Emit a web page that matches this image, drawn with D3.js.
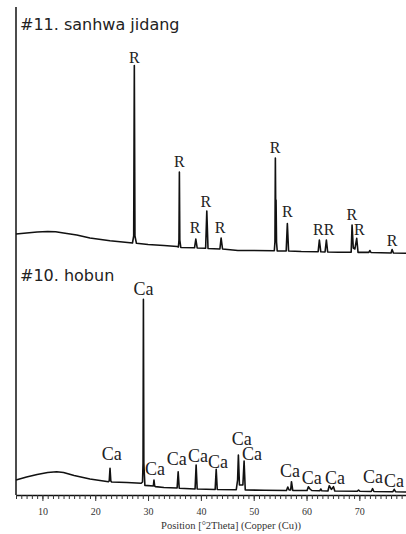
<!DOCTYPE html>
<html>
<head>
<meta charset="utf-8">
<script src="https://cdn.jsdelivr.net/npm/d3@7"></script>
<style>
  body { margin: 0; background: #fff; }
  svg { display: block; }
</style>
</head>
<body>
<div id="chart"></div>
<script>
// Diffraction traces: position in degrees 2theta, intensity in counts
const topTheta = [5.0, 7.0, 9.0, 11.0, 12.5, 14.0, 16.5, 19.0, 22.8, 26.6,
  27.05, 27.28, 27.4, 27.52, 27.8, 30.0, 33.0, 35.5,
  35.75, 35.85, 35.93, 36.01, 36.2, 38.8, 39.04, 39.3, 40.9, 41.12, 41.35,
  43.6, 43.83, 44.1, 47.0, 50.0, 53.9, 54.02, 54.1, 54.17, 54.23, 54.32, 54.45,
  56.15, 56.37, 56.6, 59.0, 62.2, 62.43, 62.7, 63.5, 63.76, 64.0, 66.0,
  68.45, 68.62, 68.85, 69.15, 69.5, 69.75, 71.8, 72.0, 72.2, 76.0, 76.2, 76.45, 78.83];
const topCounts = [130, 135, 140, 142.5, 141.5, 135, 125, 110, 96.5, 86.5,
  85, 120, 972, 120, 83.5, 77.5, 72.5, 67.5,
  65, 100, 440, 100, 62.5, 61, 105, 60, 58.5, 245, 57.5,
  55, 110, 55, 47.5, 47.5, 46.5, 90, 510, 250, 300, 90, 45,
  45, 182.5, 45, 42.5, 41.5, 100, 41, 40, 100, 40, 38.5,
  38.5, 175, 60, 55, 108, 38, 38, 47.5, 37.5, 35, 52.5, 35, 33.5];

const bottomTheta = [5.0, 7.0, 9.0, 11.0, 12.7, 14.0, 16.0, 19.0, 22.5,
  22.65, 22.8, 22.95, 23.1, 26.0, 28.7, 28.95, 29.05, 29.12, 29.2, 29.4,
  31.0, 31.12, 31.25, 31.4, 33.0, 35.5, 35.7, 35.9, 38.9, 39.1, 39.3,
  42.7, 42.9, 43.1, 46.7, 46.95, 47.1, 47.3, 47.95, 48.18, 48.4, 52.0,
  56.2, 56.45, 56.7, 57.0, 57.15, 57.4, 60.1, 60.35, 60.65, 61.0,
  62.5, 62.7, 62.9, 64.05, 64.3, 64.7, 65.1, 65.35, 69.6, 69.85, 70.1,
  72.25, 72.5, 72.75, 76.35, 76.6, 76.85, 78.83];
const bottomCounts = [75, 90, 102.5, 112.5, 116.5, 112.5, 97.5, 80, 66.5,
  70, 133.5, 70, 65, 62.5, 58.5, 65, 160, 978, 160, 48,
  45, 75, 45, 42, 37.5, 35, 116.5, 33.5, 30, 150, 30,
  27.5, 128.5, 27.5, 26.5, 75, 200, 50, 50, 170, 25, 23.5,
  22.5, 40, 25, 25, 66.5, 22.5, 22.5, 41.5, 30, 22.5,
  21, 30, 21, 20, 46.5, 28, 41.5, 20, 18.5, 25, 18.5,
  17.5, 31.5, 17.5, 16.5, 28.5, 16.5, 15];

// Phase labels (R = rutile, Ca = calcite), anchored in data units
const topLabelTheta = [27.41, 35.93, 38.9, 40.93, 43.64, 54.05, 56.38, 62.24, 64.27, 68.57, 70.0, 76.19];
const topLabelCounts = [985, 465, 135, 265, 135, 535, 215, 125, 125, 200, 125, 70];
const bottomLabelTheta = [23.14, 29.12, 31.33, 35.44, 39.47, 43.26, 47.74, 49.69, 56.89, 61.0, 65.4, 72.6, 76.57];
const bottomLabelCounts = [175, 1000, 100, 150, 166.5, 133.5, 250, 175, 91.5, 55, 55, 61.5, 41.5];

const sampleNames = ["#11. sanhwa jidang", "#10. hobun"];
const phaseNames = ["R", "Ca"];
const majorTicks = [10, 20, 30, 40, 50, 60, 70];
const xTitle = "Position [°2Theta] (Copper (Cu))";

const width = 406;
const height = 534;

const svg = d3
  .select("#chart")
  .append("svg")
  .attr("width", width)
  .attr("height", height);

svg.append("rect").attr("width", width).attr("height", height).attr("fill", "#fff");

const xScale = d3.scaleLinear().domain([5, 78.83]).range([16, 406]);

const panels = [
  {
    name: sampleNames[0], phase: phaseNames[0], size: 16,
    theta: topTheta, counts: topCounts,
    labelTheta: topLabelTheta, labelCounts: topLabelCounts,
    y: d3.scaleLinear().domain([0, 1000]).range([260, 60]), titleY: 30
  },
  {
    name: sampleNames[1], phase: phaseNames[1], size: 18,
    theta: bottomTheta, counts: bottomCounts,
    labelTheta: bottomLabelTheta, labelCounts: bottomLabelCounts,
    y: d3.scaleLinear().domain([0, 1000]).range([495, 295]), titleY: 281
  }
];

panels.forEach((p) => {
  const points = p.theta.map((t, i) => [t, p.counts[i]]);
  const line = d3
    .line()
    .x((d) => xScale(d[0]))
    .y((d) => p.y(d[1]));

  svg
    .append("path")
    .datum(points)
    .attr("fill", "none")
    .attr("stroke", "#111")
    .attr("stroke-width", 1.6)
    .attr("stroke-linejoin", "round")
    .attr("d", line);

  svg
    .selectAll(null)
    .data(p.labelTheta)
    .enter()
    .append("text")
    .attr("x", (d) => xScale(d))
    .attr("y", (d, i) => p.y(p.labelCounts[i]))
    .attr("text-anchor", "middle")
    .attr("font-family", "'Liberation Serif', 'Times New Roman', serif")
    .attr("font-size", p.size)
    .attr("fill", "#222")
    .text(p.phase);

  svg
    .append("text")
    .attr("x", 20)
    .attr("y", p.titleY)
    .attr("font-family", "'DejaVu Sans', sans-serif")
    .attr("font-size", 16)
    .attr("fill", "#222")
    .text(p.name);
});

// Left frame line
svg
  .append("line")
  .attr("x1", 16)
  .attr("x2", 16)
  .attr("y1", 7)
  .attr("y2", 495)
  .attr("stroke", "#111")
  .attr("stroke-width", 1.5);

// Axis: minor ticks every degree, labelled ones every ten
const minorAxis = d3
  .axisBottom(xScale)
  .tickValues(d3.range(5, 79))
  .tickSize(4)
  .tickSizeOuter(0)
  .tickFormat("");

svg
  .append("g")
  .attr("transform", "translate(0, 495)")
  .call(minorAxis)
  .call((g) => g.select(".domain").attr("stroke", "#111").attr("stroke-width", 1.5));

const majorAxis = d3
  .axisBottom(xScale)
  .tickValues(majorTicks)
  .tickSize(6)
  .tickSizeOuter(0)
  .tickPadding(7);

svg
  .append("g")
  .attr("transform", "translate(0, 495)")
  .call(majorAxis)
  .call((g) => g.select(".domain").remove())
  .call((g) =>
    g
      .selectAll("text")
      .attr("font-family", "'Liberation Serif', 'Times New Roman', serif")
      .attr("font-size", 10)
      .attr("fill", "#333")
  );

svg.selectAll(".tick line").attr("stroke", "#333");

svg
  .append("text")
  .attr("x", 231)
  .attr("y", 529)
  .attr("text-anchor", "middle")
  .attr("font-family", "'Liberation Serif', 'Times New Roman', serif")
  .attr("font-size", 10.5)
  .attr("fill", "#333")
  .text(xTitle);
</script>
</body>
</html>
